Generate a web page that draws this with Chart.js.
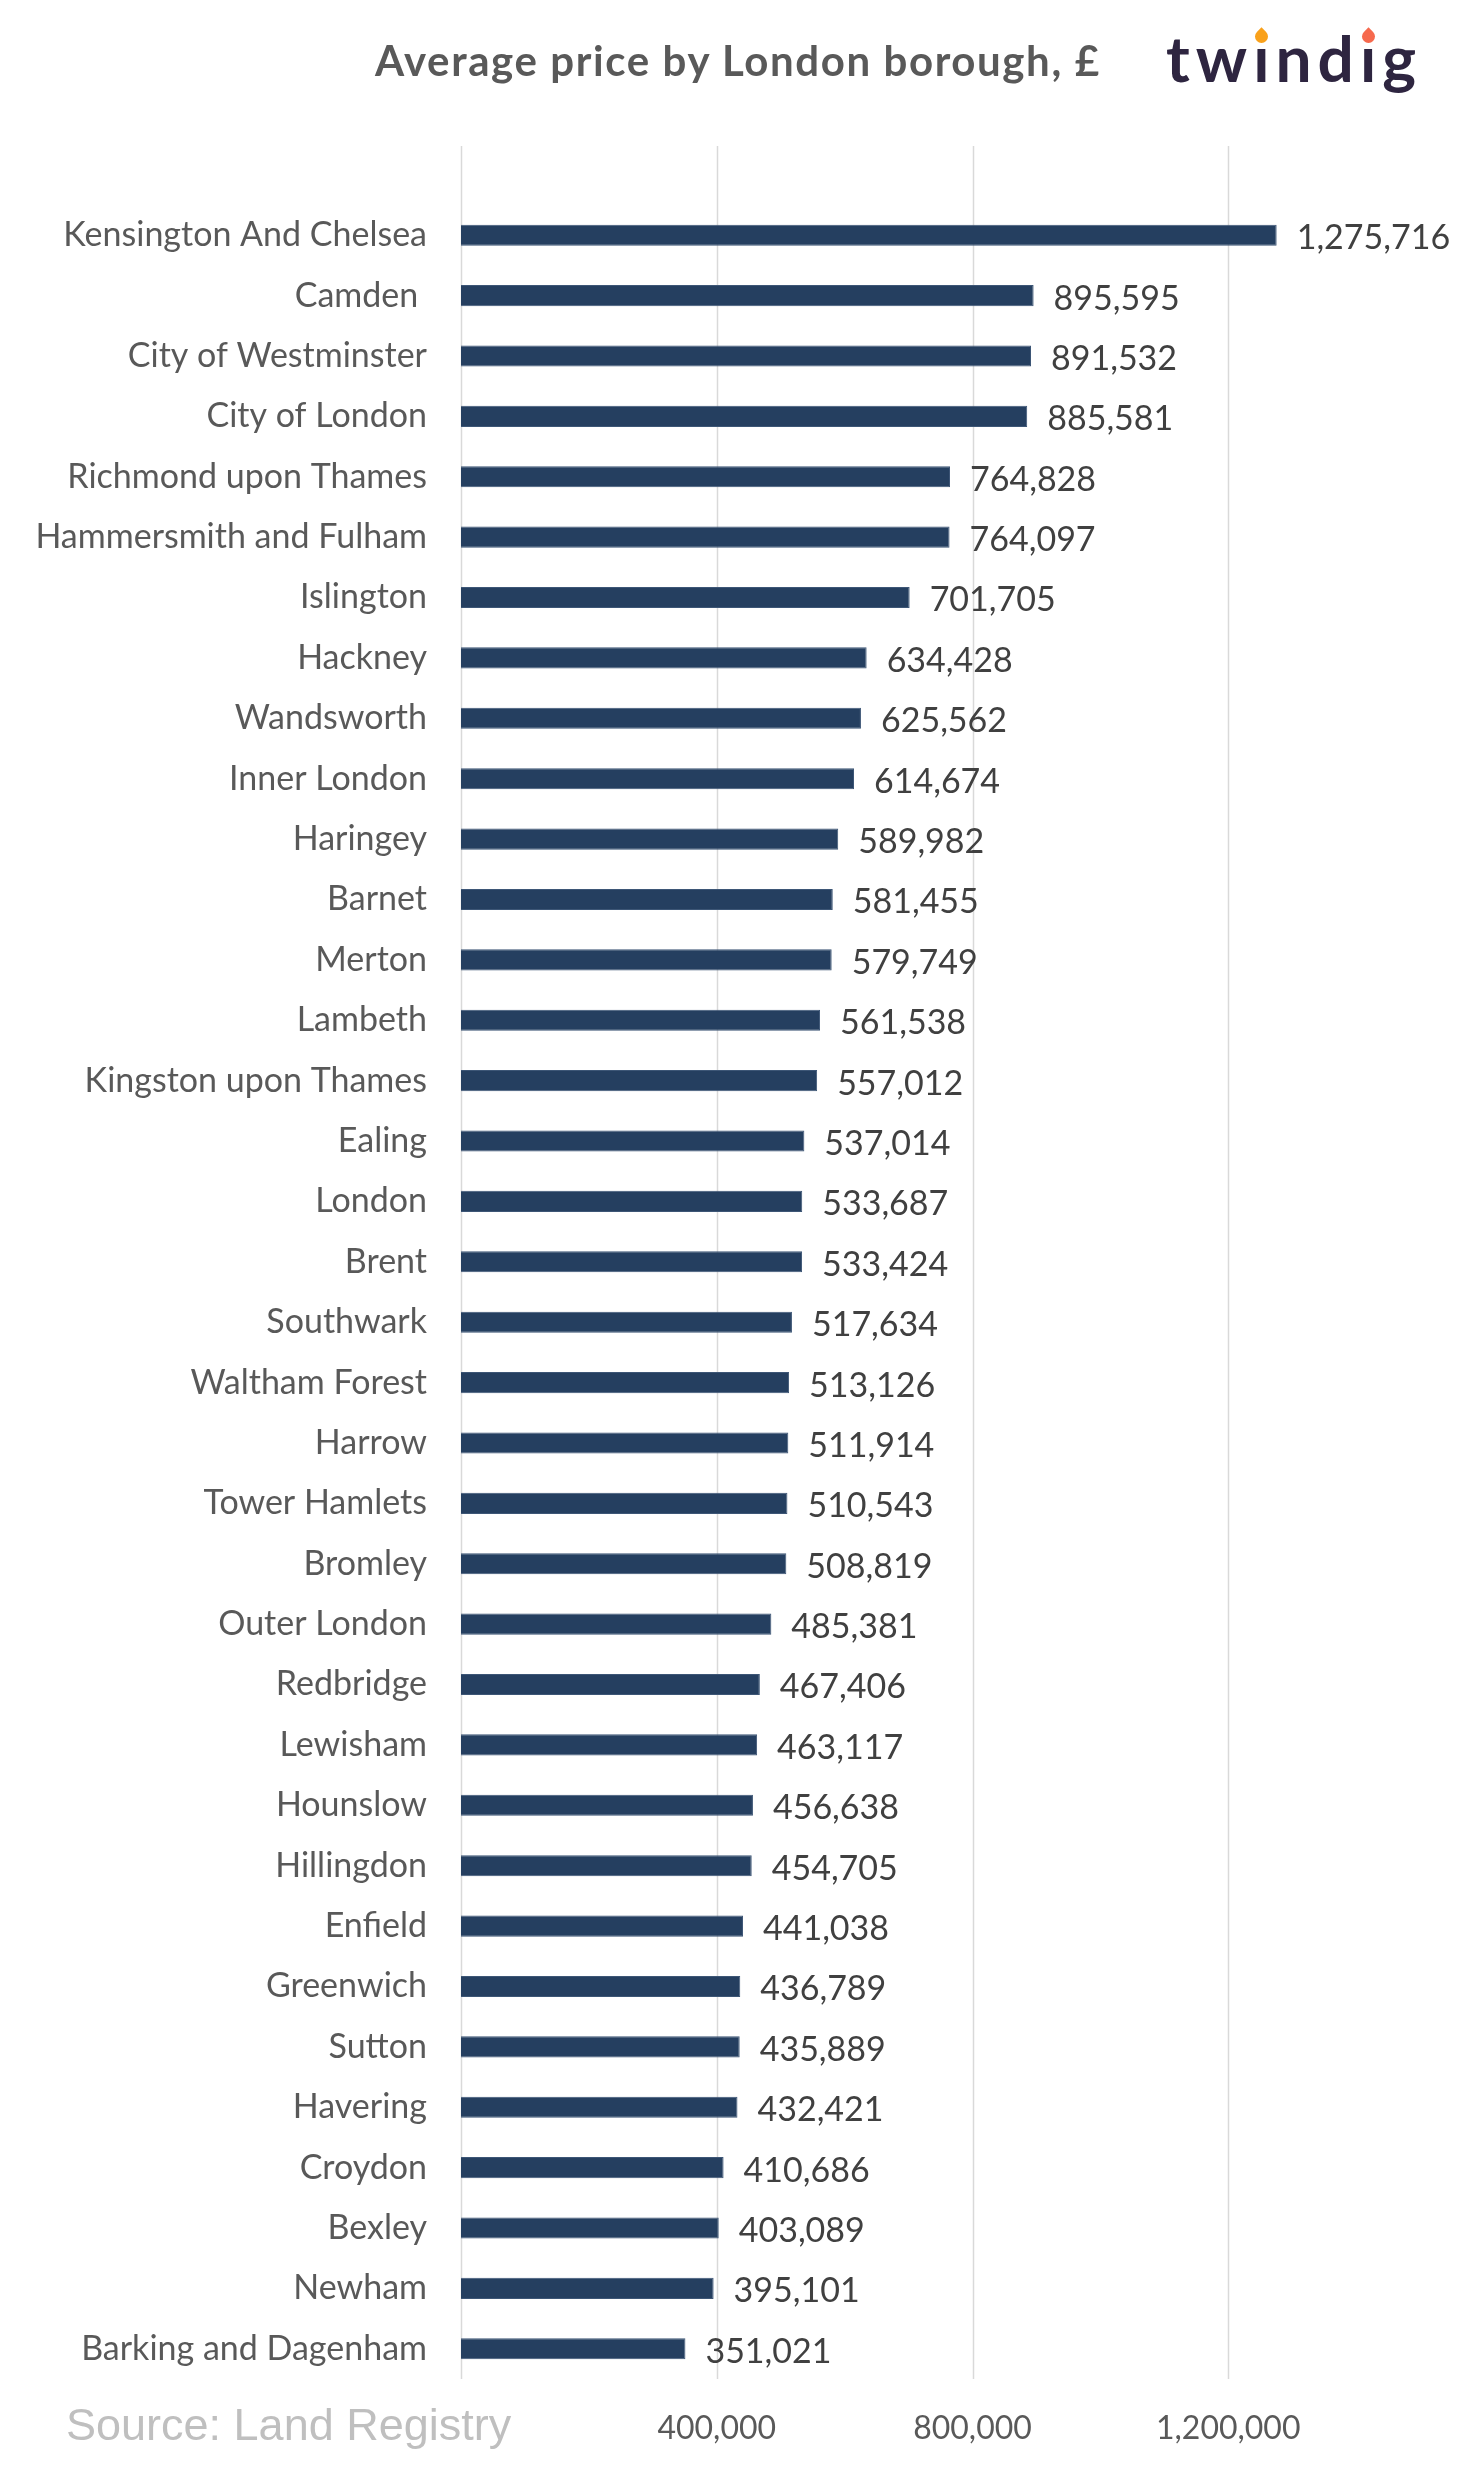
<!DOCTYPE html>
<html>
<head>
<meta charset="utf-8">
<script src="https://cdn.jsdelivr.net/npm/chart.js@4.4.1/dist/chart.umd.min.js"></script>
<style>
  html, body { margin: 0; padding: 0; background: #ffffff; }
  #wrap { position: relative; width: 1484px; height: 2479px; overflow: hidden; }
  canvas { position: absolute; left: 0; top: 0; }
  .title { position: absolute; left: 375px; top: 39px; font-family: Lato, sans-serif; font-weight: 700; font-size: 42px; letter-spacing: 1.6px; line-height: 1; color: #595959; white-space: nowrap; }
  .logo { position: absolute; left: 1166px; top: 26px; font-family: Lato, sans-serif; font-weight: 700; font-size: 64px; line-height: 1; color: #2e2540; letter-spacing: 6px; white-space: nowrap; }
  .logo .i { position: relative; display: inline-block; }
  .logo .i::after { content: ''; position: absolute; left: 50%; top: 4px; width: 13px; height: 13px; margin-left: -9.5px; transform: rotate(45deg); border-radius: 0 50% 50% 50%; }
  .logo .i1::after { background: #f9a11b; }
  .logo .i2::after { background: #f6694d; }
  .source { position: absolute; left: 66px; top: 2402px; font-family: "Liberation Sans", Arial, sans-serif; font-size: 45px; line-height: 1; color: #bfbfbf; white-space: nowrap; }
</style>
</head>
<body>
<div id="wrap">
  <canvas id="c" width="1484" height="2479"></canvas>
  <div class="title">Average price by London borough, £</div>
  <div class="logo">tw<span class="i i1">ı</span>nd<span class="i i2">ı</span>g</div>
  <div class="source">Source: Land Registry</div>
</div>
<script>
const categories = [
  'Kensington And Chelsea', 'Camden ', 'City of Westminster', 'City of London',
  'Richmond upon Thames', 'Hammersmith and Fulham', 'Islington', 'Hackney',
  'Wandsworth', 'Inner London', 'Haringey', 'Barnet', 'Merton', 'Lambeth',
  'Kingston upon Thames', 'Ealing', 'London', 'Brent', 'Southwark',
  'Waltham Forest', 'Harrow', 'Tower Hamlets', 'Bromley', 'Outer London',
  'Redbridge', 'Lewisham', 'Hounslow', 'Hillingdon', 'Enfield', 'Greenwich',
  'Sutton', 'Havering', 'Croydon', 'Bexley', 'Newham', 'Barking and Dagenham'
];
const averagePrices = [
  1275716, 895595, 891532, 885581,
  764828, 764097, 701705, 634428,
  625562, 614674, 589982, 581455, 579749, 561538,
  557012, 537014, 533687, 533424, 517634,
  513126, 511914, 510543, 508819, 485381,
  467406, 463117, 456638, 454705, 441038, 436789,
  435889, 432421, 410686, 403089, 395101, 351021
];
const xTickValues = [0, 400000, 800000, 1200000];
const xAxisMax = 1600000;

const fmt = v => Number(v).toLocaleString('en-GB');

const gridPlugin = {
  id: 'tallGrid',
  beforeDatasetsDraw(chart) {
    const xs = chart.scales.x;
    const area = chart.chartArea;
    const ctx = chart.ctx;
    ctx.save();
    ctx.strokeStyle = '#d9d9d9';
    ctx.lineWidth = 1.5;
    xs.ticks.forEach(t => {
      const px = Math.round(xs.getPixelForValue(t.value)) + 0.5;
      ctx.beginPath();
      ctx.moveTo(px, area.top - 59);
      ctx.lineTo(px, area.bottom);
      ctx.stroke();
    });
    ctx.restore();
  }
};

const valueLabelPlugin = {
  id: 'valueLabels',
  afterDatasetsDraw(chart) {
    const ctx = chart.ctx;
    const meta = chart.getDatasetMeta(0);
    const data = chart.data.datasets[0].data;
    ctx.save();
    ctx.font = '34px Lato, sans-serif';
    ctx.fillStyle = '#404040';
    ctx.textAlign = 'left';
    ctx.textBaseline = 'middle';
    meta.data.forEach((bar, i) => {
      ctx.fillText(fmt(data[i]), bar.x + 20, bar.y + 3);
    });
    ctx.restore();
  }
};

new Chart(document.getElementById('c'), {
  type: 'bar',
  data: {
    labels: categories,
    datasets: [{
      data: averagePrices,
      backgroundColor: '#253f60',
      borderColor: '#3d5676',
      borderWidth: 1,
      barPercentage: 0.35,
      categoryPercentage: 1
    }]
  },
  options: {
    indexAxis: 'y',
    responsive: false,
    animation: false,
    layout: { padding: { top: 205, right: 0, bottom: 0, left: 0 } },
    plugins: { legend: { display: false }, tooltip: { enabled: false }, title: { display: false } },
    scales: {
      x: {
        type: 'linear',
        position: 'bottom',
        min: 0,
        max: xAxisMax,
        grid: { display: false, drawTicks: false },
        border: { display: false },
        afterBuildTicks: s => { s.ticks = xTickValues.map(v => ({ value: v })); },
        afterFit: s => { s.height = 100; },
        ticks: {
          autoSkip: false,
          maxRotation: 0,
          padding: 30,
          color: '#595959',
          font: { family: 'Lato', size: 32 },
          callback: v => (v === 0 ? '' : fmt(v))
        }
      },
      y: {
        grid: { display: false, drawTicks: false },
        border: { display: false },
        afterFit: s => { s.width = 461; },
        ticks: {
          autoSkip: false,
          padding: 34,
          color: '#595959',
          font: { family: 'Lato', size: 34 }
        }
      }
    }
  },
  plugins: [gridPlugin, valueLabelPlugin]
});
</script>
</body>
</html>
